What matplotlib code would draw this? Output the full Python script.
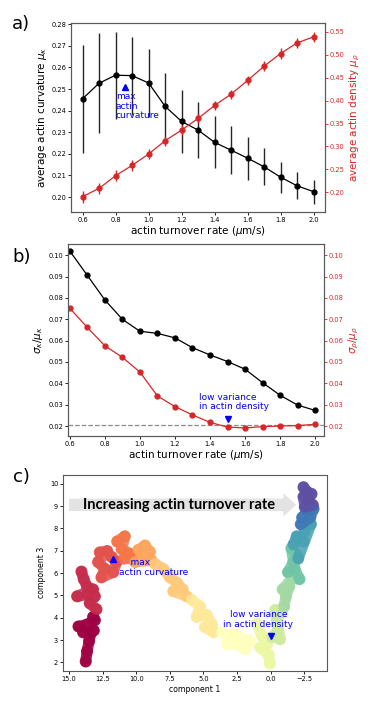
import numpy as np
import matplotlib
matplotlib.use('Agg')
import matplotlib.pyplot as plt
from matplotlib.patches import FancyArrow

# turnover rates (um/s)
rates = [0.6, 0.7, 0.8, 0.9, 1.0, 1.1, 1.2, 1.3, 1.4, 1.5, 1.6, 1.7, 1.8, 1.9, 2.0]

# panel a
mu_kappa = [0.2455, 0.2527, 0.2564, 0.2562, 0.2528, 0.2420, 0.2350, 0.2310, 0.2253,
            0.2217, 0.2180, 0.2140, 0.2092, 0.2052, 0.2025]
mu_kappa_err = [0.0250, 0.0232, 0.0202, 0.0180, 0.0158, 0.0152, 0.0144, 0.0131, 0.0120,
                0.0111, 0.0100, 0.0085, 0.0072, 0.0062, 0.0055]
mu_rho = [0.1906, 0.2087, 0.2363, 0.2588, 0.2835, 0.3125, 0.3358, 0.3612, 0.3895,
          0.4142, 0.4440, 0.4752, 0.5028, 0.5260, 0.5391]
mu_rho_err = [0.013, 0.012, 0.012, 0.012, 0.011, 0.011, 0.011, 0.011, 0.010,
              0.010, 0.010, 0.011, 0.011, 0.011, 0.011]

# panel b
cv_kappa = [0.1020, 0.0906, 0.0791, 0.0700, 0.0644, 0.0634, 0.0613, 0.0567, 0.0533,
            0.0502, 0.0466, 0.0403, 0.0344, 0.0298, 0.0273]
cv_rho = [0.0752, 0.0662, 0.0576, 0.0522, 0.0453, 0.0341, 0.0291, 0.0252, 0.0217,
          0.0195, 0.0191, 0.0197, 0.0200, 0.0202, 0.0208]
cv_ref = 0.0205

# panel c: embedding points (component 1, component 3) and rate index
comp1 = [13.76, 13.66, 13.51, 13.41, 13.96, 13.16, 14.30, 13.66, 13.08, 13.21,
         14.08, 13.91, 13.66, 13.21, 14.40, 13.66, 13.08, 13.46, 12.96,
         12.71, 12.16, 12.84, 12.34, 12.59, 11.72, 11.47, 11.84,
         11.42, 10.85, 11.09, 10.52, 10.27, 10.92,
         9.85, 9.35, 8.98, 9.73, 8.86, 10.10,
         8.61, 7.99, 7.49, 6.99, 6.54, 7.24, 6.24,
         5.87, 5.25, 5.50, 4.75, 4.38, 4.25, 4.88,
         3.63, 3.01, 2.51, 1.89, 2.76, 1.52, 3.26,
         1.02, 0.65, 0.27, 0.77, 0.15, 0.05,
         -0.10, -0.55, -0.45, -0.85, -0.35, -0.70,
         -1.00, -1.15, -1.40, -0.90, -1.55,
         -1.30, -1.70, -1.95, -1.55, -1.80, -2.15,
         -1.70, -1.95, -2.45, -2.55, -3.00, -2.05,
         -2.35, -2.75, -3.20, -2.95, -2.25,
         -2.45, -2.70, -3.05, -2.80, -3.15, -2.55, -2.45]
comp3 = [2.04, 2.50, 2.96, 3.27, 3.35, 3.43, 3.61, 3.70, 3.89, 4.04,
         6.07, 5.73, 5.39, 5.27, 4.96, 5.04, 4.96, 4.65, 4.38,
         6.93, 6.99, 6.50, 6.19, 5.81, 6.04, 6.50, 6.73,
         7.42, 7.65, 7.08, 6.88, 6.65, 6.65,
         7.04, 7.24, 6.96, 6.65, 6.57, 6.50,
         6.42, 6.19, 5.81, 5.58, 5.27, 5.19, 4.96,
         4.81, 4.50, 4.04, 4.12, 3.73, 3.35, 3.58,
         3.35, 3.12, 2.81, 2.58, 3.27, 2.96, 2.81,
         3.73, 3.20, 2.81, 2.66, 2.35, 1.95,
         3.12, 3.43, 3.89, 4.27, 4.35, 3.04,
         4.50, 4.96, 5.42, 5.27, 5.73,
         6.04, 6.50, 6.80, 7.11, 6.19, 5.73,
         7.27, 7.65, 7.42, 7.88, 8.19, 6.65,
         8.49, 8.80, 8.88, 8.49, 8.19,
         9.85, 9.65, 9.55, 9.26, 9.05, 8.96, 9.42]
group = ([0] * 10 + [1] * 9 + [2] * 8 + [3] * 6 + [4] * 6 + [5] * 7 + [6] * 7 +
         [7] * 7 + [8] * 6 + [9] * 6 + [10] * 5 + [11] * 6 + [12] * 6 + [13] * 5 + [14] * 7)

red = '#d62728'
tick_fs = 4.8
lab_fs = 7.5
ann_fs = 6.5

fig = plt.figure(figsize=(3.82, 7.16), dpi=100)


def style(ax):
    ax.tick_params(labelsize=tick_fs, length=2, width=0.6, pad=1.5)
    for s in ax.spines.values():
        s.set_color('0.35')
        s.set_linewidth(0.8)


# ---- a)
ax1 = fig.add_axes([0.186, 0.704, 0.665, 0.264])
ax1.errorbar(rates, mu_kappa, yerr=mu_kappa_err, color='black', ecolor='0.15',
             marker='o', ms=3.5, lw=0.9, elinewidth=1.0, zorder=3)
ax1.set_xlim(0.53, 2.07)
ax1.set_ylim(0.1931, 0.2806)
ax1.set_xticks([0.6, 0.8, 1.0, 1.2, 1.4, 1.6, 1.8, 2.0])
ax1.set_yticks(np.arange(0.20, 0.2805, 0.01))
ax1.set_xlabel(r'actin turnover rate ($\mu$m/s)', fontsize=lab_fs, labelpad=1)
ax1.set_ylabel(r'average actin curvature $\mu_\kappa$', fontsize=lab_fs, labelpad=2)
ax1.plot([0.856], [0.2510], marker='^', color='blue', ms=4, ls='none')
ax1.text(0.801, 0.2484, 'max\nactin\ncurvature', color='blue', fontsize=ann_fs,
         ha='left', va='top', linespacing=1.05)
style(ax1)
ax1r = ax1.twinx()
ax1r.errorbar(rates, mu_rho, yerr=mu_rho_err, color=red, ecolor=red,
              marker='o', ms=3.5, lw=0.9, elinewidth=1.0)
ax1r.set_ylim(0.1572, 0.5696)
ax1r.set_yticks(np.arange(0.20, 0.551, 0.05))
ax1r.set_ylabel(r'average actin density $\mu_\rho$', fontsize=lab_fs, color=red, labelpad=2)
style(ax1r)
ax1r.tick_params(axis='y', colors=red)

# ---- b)
ax2 = fig.add_axes([0.178, 0.391, 0.670, 0.268])
ax2.plot(rates, cv_kappa, color='black', marker='o', ms=3.5, lw=0.9)
ax2.set_xlim(0.59, 2.05)
ax2.set_ylim(0.0153, 0.1052)
ax2.set_xticks([0.6, 0.8, 1.0, 1.2, 1.4, 1.6, 1.8, 2.0])
ax2.set_yticks(np.arange(0.02, 0.1005, 0.01))
ax2.set_xlabel(r'actin turnover rate ($\mu$m/s)', fontsize=lab_fs, labelpad=1)
ax2.set_ylabel(r'$\sigma_\kappa/\mu_\kappa$', fontsize=lab_fs, labelpad=2)
style(ax2)
ax2r = ax2.twinx()
ax2r.axhline(cv_ref, color='0.55', ls='--', lw=0.9)
ax2r.plot(rates, cv_rho, color=red, marker='o', ms=3.5, lw=0.9)
ax2r.set_ylim(0.0153, 0.1052)
ax2r.set_yticks(np.arange(0.02, 0.1005, 0.01))
ax2r.set_ylabel(r'$\sigma_\rho/\mu_\rho$', fontsize=lab_fs, color=red, labelpad=2)
ax2r.plot([1.501], [0.0233], marker='v', color='blue', ms=4, ls='none')
ax2r.text(1.335, 0.0268, 'low variance\nin actin density', color='blue',
          fontsize=ann_fs, ha='left', va='bottom', linespacing=1.1)
style(ax2r)
ax2r.tick_params(axis='y', colors=red)

# ---- c)
ax3 = fig.add_axes([0.165, 0.063, 0.691, 0.274])
cmap = plt.get_cmap('Spectral')
comp1 = np.array(comp1)
comp3 = np.array(comp3)
group = np.array(group)
for g in range(len(rates)):
    m = group == g
    c = cmap(g / (len(rates) - 1))
    ax3.plot(comp1[m], comp3[m], color=c, lw=8, solid_capstyle='round',
             solid_joinstyle='round', alpha=0.85)
    ax3.scatter(comp1[m], comp3[m], s=75, color=c, edgecolors='none', alpha=0.85)
ax3.set_xlim(15.45, -4.2)
ax3.set_ylim(1.62, 10.41)
ax3.set_xticks([15.0, 12.5, 10.0, 7.5, 5.0, 2.5, 0.0, -2.5])
ax3.set_yticks(range(2, 11))
ax3.set_xlabel('component 1', fontsize=5.6, labelpad=2)
ax3.set_ylabel('component 3', fontsize=5.6, labelpad=3)
style(ax3)
ax3.add_patch(FancyArrow(15.0, 9.06, -16.9, 0, width=0.56, head_width=1.04,
                         head_length=0.95, length_includes_head=True,
                         color='#e3e3e3', lw=0, zorder=0))
ax3.text(6.79, 9.06, 'Increasing actin turnover rate', fontsize=10.5,
         fontweight='bold', family='Lato', ha='center', va='center')
ax3.plot([11.72], [6.62], marker='^', color='blue', ms=4, ls='none')
ax3.text(11.29, 6.68, '    max\nactin curvature', color='blue', fontsize=ann_fs,
         ha='left', va='top', linespacing=1.1)
ax3.plot([-0.02], [3.20], marker='v', color='blue', ms=4, ls='none')
ax3.text(0.9, 3.5, 'low variance\nin actin density', color='blue', fontsize=ann_fs,
         ha='center', va='bottom', linespacing=1.1)

fig.text(0.032, 0.967, 'a)', fontsize=13, va='center')
fig.text(0.032, 0.641, 'b)', fontsize=13, va='center')
fig.text(0.034, 0.334, 'c)', fontsize=13, va='center')

fig.savefig('out.png', dpi=100)
